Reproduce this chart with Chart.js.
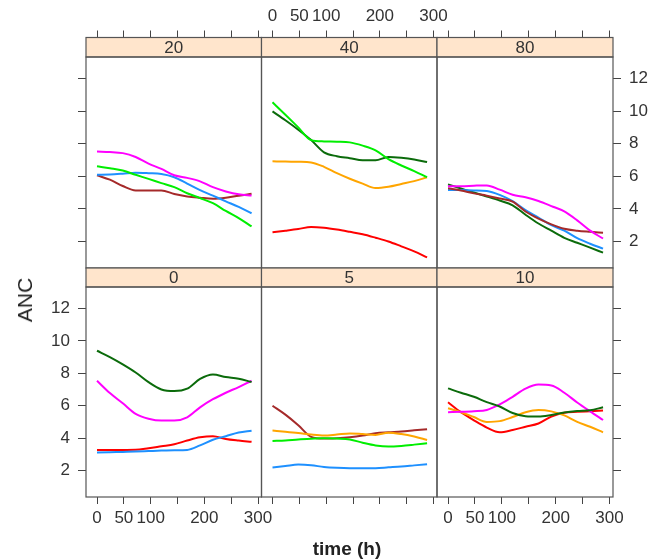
<!DOCTYPE html>
<html>
<head>
<meta charset="utf-8">
<script src="https://cdn.jsdelivr.net/npm/chart.js@4"></script>
<style>
body{margin:0;background:#fff;}
#wrap{position:relative;width:650px;height:560px;overflow:hidden;font-family:"Liberation Sans",Arial,sans-serif;}
#wrap canvas{position:absolute;left:0;top:0;}
#ylab{position:absolute;left:25px;top:300px;transform:translate(-50%,-50%) rotate(-90deg);font-size:21px;color:#222;}
#xlab{position:absolute;left:347px;top:549px;transform:translate(-50%,-50%);font-size:19px;font-weight:bold;color:#222;white-space:nowrap;}
</style>
</head>
<body>
<div id="wrap">
  <canvas id="c20" width="650" height="560"></canvas>
  <canvas id="c40" width="650" height="560"></canvas>
  <canvas id="c80" width="650" height="560"></canvas>
  <canvas id="c0" width="650" height="560"></canvas>
  <canvas id="c5" width="650" height="560"></canvas>
  <canvas id="c10" width="650" height="560"></canvas>
  <div id="ylab">ANC</div>
  <div id="xlab">time (h)</div>
</div>
<script>
// ==========================
// data
// ==========================
const hours = [0, 24, 48, 72, 96, 120, 144, 168, 192, 216, 240, 264, 288];
const xTicks = [0, 50, 100, 150, 200, 250, 300];
const xLabels = [0, 50, 100, 200, 300];
const yTicks = [2, 4, 6, 8, 10, 12];

// panel 20
const p20_magenta = [7.52, 7.49, 7.42, 7.18, 6.78, 6.45, 6.06, 5.9, 5.69, 5.33, 5.07, 4.89, 4.82];
const p20_green   = [6.61, 6.49, 6.35, 6.09, 5.84, 5.58, 5.33, 4.96, 4.66, 4.35, 3.87, 3.43, 2.92];
const p20_blue    = [6.09, 6.11, 6.16, 6.22, 6.19, 6.14, 5.94, 5.55, 5.15, 4.81, 4.46, 4.12, 3.73];
const p20_brown   = [6.06, 5.79, 5.4, 5.13, 5.13, 5.13, 4.91, 4.76, 4.68, 4.62, 4.68, 4.81, 4.92];

// panel 40
const p40_green     = [10.54, 9.78, 9.0, 8.22, 8.14, 8.12, 8.08, 7.88, 7.59, 7.05, 6.66, 6.32, 5.95];
const p40_darkgreen = [9.98, 9.44, 8.86, 8.22, 7.47, 7.23, 7.11, 6.98, 6.98, 7.18, 7.13, 7.03, 6.87];
const p40_orange    = [6.92, 6.9, 6.89, 6.85, 6.58, 6.19, 5.85, 5.55, 5.28, 5.36, 5.53, 5.7, 5.94];
const p40_red       = [2.57, 2.66, 2.76, 2.89, 2.84, 2.73, 2.59, 2.44, 2.23, 2.0, 1.7, 1.39, 1.02];

// panel 80
const p80_magenta   = [5.39, 5.39, 5.42, 5.44, 5.18, 4.87, 4.71, 4.48, 4.17, 3.84, 3.29, 2.66, 2.18];
const p80_blue      = [5.16, 5.15, 5.13, 5.1, 4.86, 4.47, 3.93, 3.47, 3.0, 2.66, 2.2, 1.86, 1.56];
const p80_darkgreen = [5.5, 5.25, 5.0, 4.76, 4.51, 4.22, 3.64, 3.1, 2.66, 2.22, 1.92, 1.62, 1.31];
const p80_brown     = [5.26, 5.13, 4.95, 4.81, 4.64, 4.45, 3.84, 3.4, 3.05, 2.78, 2.66, 2.59, 2.53];

// panel 0
const p0_darkgreen = [9.39, 9.0, 8.55, 8.05, 7.45, 7.0, 6.9, 7.05, 7.65, 7.92, 7.77, 7.66, 7.46];
const p0_magenta   = [7.54, 6.78, 6.15, 5.5, 5.2, 5.08, 5.08, 5.28, 5.9, 6.4, 6.8, 7.15, 7.54];
const p0_red       = [3.27, 3.27, 3.27, 3.28, 3.38, 3.5, 3.62, 3.85, 4.05, 4.12, 3.95, 3.85, 3.77];
const p0_blue      = [3.11, 3.13, 3.15, 3.17, 3.2, 3.23, 3.25, 3.27, 3.55, 3.9, 4.12, 4.35, 4.46];

// panel 5
const p5_brown  = [6.0, 5.45, 4.8, 4.08, 3.97, 4.0, 4.06, 4.16, 4.3, 4.36, 4.41, 4.48, 4.55];
const p5_orange = [4.47, 4.4, 4.32, 4.22, 4.16, 4.22, 4.29, 4.25, 4.2, 4.33, 4.25, 4.1, 3.89];
const p5_green  = [3.83, 3.86, 3.92, 3.96, 3.99, 3.97, 3.92, 3.72, 3.55, 3.48, 3.52, 3.6, 3.69];
const p5_blue   = [2.19, 2.28, 2.37, 2.33, 2.22, 2.17, 2.15, 2.15, 2.15, 2.2, 2.25, 2.32, 2.39];

// panel 10
const p10_darkgreen = [7.07, 6.8, 6.55, 6.22, 5.95, 5.55, 5.35, 5.33, 5.43, 5.58, 5.67, 5.72, 5.9];
const p10_magenta   = [5.6, 5.62, 5.66, 5.74, 6.08, 6.55, 7.05, 7.3, 7.25, 6.8, 6.2, 5.65, 5.12];
const p10_red       = [6.21, 5.6, 5.1, 4.65, 4.36, 4.5, 4.7, 4.9, 5.33, 5.57, 5.62, 5.66, 5.7];
const p10_orange    = [5.84, 5.6, 5.3, 5.0, 5.05, 5.3, 5.6, 5.74, 5.65, 5.4, 5.0, 4.7, 4.36];

// ==========================
// look
// ==========================
const MAGENTA = "#FF00FF", GREEN = "#00EE00", BLUE = "#1E90FF", BROWN = "#A52A2A",
      DARKGREEN = "#0B6B0B", ORANGE = "#FFA500", RED = "#FF0000";

const XMIN = -20.5, XMAX = 306.5, YMIN = 0.37, YMAX = 13.32;
const COLS = [[86, 261.5], [261.5, 437], [437, 613]];
const ROWS = [{strip: 19.5, top: 57, bottom: 268}, {strip: 19, top: 287, bottom: 497}];
const LEFT_W = 40, RIGHT_W = 37, TOP_H = 30, BOTTOM_H = 35;
const FONT = '"Liberation Sans", Arial, sans-serif';
const AXIS_COLOR = "#444", TEXT_COLOR = "#333";

Chart.defaults.font.family = FONT;

const panels = [
  {id: "c20", label: "20", col: 0, row: 0, left: "ticks", right: "", top: "ticks", bottom: "",
   lines: [[MAGENTA, p20_magenta], [GREEN, p20_green], [BLUE, p20_blue], [BROWN, p20_brown]]},
  {id: "c40", label: "40", col: 1, row: 0, left: "", right: "", top: "labels", bottom: "",
   lines: [[GREEN, p40_green], [DARKGREEN, p40_darkgreen], [ORANGE, p40_orange], [RED, p40_red]]},
  {id: "c80", label: "80", col: 2, row: 0, left: "", right: "labels", top: "ticks", bottom: "",
   lines: [[MAGENTA, p80_magenta], [BROWN, p80_brown], [BLUE, p80_blue], [DARKGREEN, p80_darkgreen]]},
  {id: "c0", label: "0", col: 0, row: 1, left: "labels", right: "", top: "", bottom: "labels",
   lines: [[DARKGREEN, p0_darkgreen], [MAGENTA, p0_magenta], [BLUE, p0_blue], [RED, p0_red]]},
  {id: "c5", label: "5", col: 1, row: 1, left: "", right: "", top: "", bottom: "ticks",
   lines: [[BLUE, p5_blue], [GREEN, p5_green], [ORANGE, p5_orange], [BROWN, p5_brown]]},
  {id: "c10", label: "10", col: 2, row: 1, left: "", right: "ticks", top: "", bottom: "labels",
   lines: [[DARKGREEN, p10_darkgreen], [MAGENTA, p10_magenta], [ORANGE, p10_orange], [RED, p10_red]]}
];

// strip + panel frame
const stripPlugin = {
  id: "strip",
  afterDraw(chart, args, opts) {
    const ctx = chart.ctx, a = chart.chartArea, s = chart.scales.s;
    ctx.save();
    ctx.fillStyle = "#FFE5CC";
    ctx.fillRect(a.left, s.top, a.right - a.left, s.bottom - s.top);
    ctx.strokeStyle = "#555";
    ctx.lineWidth = 1.2;
    ctx.strokeRect(a.left, s.top, a.right - a.left, s.bottom - s.top);
    ctx.strokeRect(a.left, a.top, a.right - a.left, a.bottom - a.top);
    ctx.fillStyle = TEXT_COLOR;
    ctx.font = "17px " + FONT;
    ctx.textAlign = "center";
    ctx.textBaseline = "middle";
    ctx.fillText(opts.text, (a.left + a.right) / 2, (s.top + s.bottom) / 2 + 1);
    ctx.restore();
  }
};

function xAxis(pos, mode, weight) {
  return {
    type: "linear", position: pos, weight: weight, min: XMIN, max: XMAX,
    display: !!mode,
    afterBuildTicks: s => { s.ticks = xTicks.map(v => ({value: v})); },
    afterFit: s => { s.height = mode ? (pos === "top" ? TOP_H : BOTTOM_H) : 0; },
    grid: {drawOnChartArea: false, drawTicks: true, tickLength: 7, color: AXIS_COLOR},
    border: {display: false},
    ticks: {autoSkip: false, maxRotation: 0, minRotation: 0, padding: 4, color: TEXT_COLOR,
            font: {size: 17},
            callback: v => (mode === "labels" && xLabels.includes(v)) ? String(v) : ""}
  };
}

function yAxis(pos, mode) {
  return {
    type: "linear", position: pos, min: YMIN, max: YMAX,
    display: !!mode,
    afterBuildTicks: s => { s.ticks = yTicks.map(v => ({value: v})); },
    afterFit: s => { s.width = mode ? (pos === "left" ? LEFT_W : RIGHT_W) : 0; },
    grid: {drawOnChartArea: false, drawTicks: true, tickLength: 8, color: AXIS_COLOR},
    border: {display: false},
    ticks: {padding: 8, color: TEXT_COLOR, font: {size: 17},
            callback: v => mode === "labels" ? String(v) : ""}
  };
}

panels.forEach(p => {
  const [L, R] = COLS[p.col];
  const row = ROWS[p.row];

  new Chart(document.getElementById(p.id), {
    type: "line",
    data: {
      datasets: p.lines.map(([color, vals]) => ({
        data: hours.map((h, i) => ({x: h, y: vals[i]})),
        borderColor: color,
        borderWidth: 2,
        pointRadius: 0,
        fill: false,
        cubicInterpolationMode: "monotone"
      }))
    },
    options: {
      responsive: false,
      animation: false,
      events: [],
      layout: {
        padding: {
          left: L - (p.left ? LEFT_W : 0),
          right: 650 - R - (p.right ? RIGHT_W : 0),
          top: row.top - row.strip - (p.top ? TOP_H : 0),
          bottom: 560 - row.bottom - (p.bottom ? BOTTOM_H : 0)
        }
      },
      scales: {
        x: xAxis("bottom", p.bottom, 0),
        x2: xAxis("top", p.top, 1),
        s: {
          type: "linear", position: "top", weight: 0, display: true,
          afterFit: s => { s.height = row.strip; },
          grid: {display: false}, border: {display: false}, ticks: {display: false}
        },
        y: yAxis("left", p.left),
        y2: yAxis("right", p.right)
      },
      plugins: {
        legend: {display: false},
        tooltip: {enabled: false},
        strip: {text: p.label}
      }
    },
    plugins: [stripPlugin]
  });
});
</script>
</body>
</html>
